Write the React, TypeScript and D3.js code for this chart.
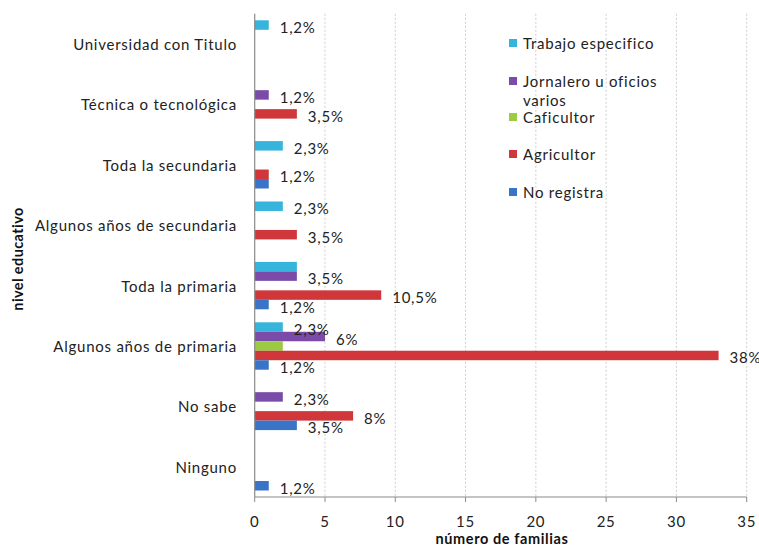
import React from "react";
import * as d3 from "d3";

const categories = [
  "Universidad con Titulo",
  "Técnica o tecnológica",
  "Toda la secundaria",
  "Algunos años de secundaria",
  "Toda la primaria",
  "Algunos años de primaria",
  "No sabe",
  "Ninguno",
];

const seriesNames = ["Trabajo especifico", "Jornalero u oficios varios", "Caficultor", "Agricultor", "No registra"];
const seriesColors = ["#36B4DB", "#7A4BA8", "#9ACB42", "#D0373A", "#3A74C8"];

const trabajo = [1, 0, 2, 2, 3, 2, 0, 0];
const jornalero = [0, 1, 0, 0, 3, 5, 2, 0];
const caficultor = [0, 0, 0, 0, 0, 2, 0, 0];
const agricultor = [0, 3, 1, 3, 9, 33, 7, 0];
const noRegistra = [0, 0, 1, 0, 1, 1, 3, 1];

const trabajoLabels = ["1,2%", "", "2,3%", "2,3%", "", "2,3%", "", ""];
const jornaleroLabels = ["", "1,2%", "", "", "3,5%", "6%", "2,3%", ""];
const caficultorLabels = ["", "", "", "", "", "", "", ""];
const agricultorLabels = ["", "3,5%", "1,2%", "3,5%", "10,5%", "38%", "8%", ""];
const noRegistraLabels = ["", "", "", "", "1,2%", "1,2%", "3,5%", "1,2%"];

const xTicks = [0, 5, 10, 15, 20, 25, 30, 35];

const seriesValues = [trabajo, jornalero, caficultor, agricultor, noRegistra];
const seriesLabels = [trabajoLabels, jornaleroLabels, caficultorLabels, agricultorLabels, noRegistraLabels];

const FONT = "Lato, 'Open Sans', sans-serif";
const LS = 0.75;

export default function App() {
  const W = 759;
  const H = 545;
  const x = d3.scaleLinear().domain([0, 35]).range([254.7, 746.7]);
  const y = d3.scaleBand<string>().domain(categories).range([13.8, 497]);
  const inner = d3
    .scaleBand<number>()
    .domain(d3.range(seriesNames.length))
    .range([6.5, y.bandwidth() - 6.5]);
  const top = 13.8;
  const bottom = 497;
  const axisColor = "#8a8a8a";

  const legendY = [43, 81, 117, 154, 192];

  return (
    <svg
      width={W}
      height={H}
      style={{ position: "absolute", left: 0, top: 0, background: "#fff" }}
      fontFamily={FONT}
    >
      {/* gridlines */}
      {xTicks
        .filter((t) => t > 0)
        .map((t) => (
          <line
            key={"g" + t}
            x1={x(t)}
            x2={x(t)}
            y1={top}
            y2={bottom}
            stroke="#cfcfcf"
            strokeWidth={1}
            strokeDasharray="2,2"
          />
        ))}

      {/* bars */}
      {categories.map((c, ci) =>
        seriesValues.map((vals, si) => {
          const v = vals[ci];
          if (!v) return null;
          const by = (y(c) as number) + (inner(si) as number);
          return (
            <rect
              key={c + si}
              x={x(0)}
              y={by}
              width={x(v) - x(0)}
              height={inner.bandwidth()}
              fill={seriesColors[si]}
            />
          );
        })
      )}

      {/* data labels */}
      {categories.map((c, ci) =>
        seriesLabels.map((labs, si) => {
          const l = labs[ci];
          if (!l) return null;
          const v = seriesValues[si][ci];
          const by = (y(c) as number) + (inner(si) as number) + inner.bandwidth() / 2;
          return (
            <text
              key={"l" + c + si}
              x={x(v) + 11}
              y={by + 2}
              dominantBaseline="central"
              fontSize={15}
              letterSpacing={LS}
              fill="#222"
            >
              {l}
            </text>
          );
        })
      )}

      {/* axes */}
      <line x1={x(0)} x2={x(0)} y1={top} y2={bottom} stroke={axisColor} strokeWidth={1.2} />
      <line x1={x(0)} x2={x(35)} y1={bottom} y2={bottom} stroke={axisColor} strokeWidth={1.2} />
      {xTicks.map((t) => (
        <g key={"t" + t}>
          <line x1={x(t)} x2={x(t)} y1={bottom} y2={bottom + 5} stroke={axisColor} strokeWidth={1} />
          <text x={x(t)} y={521} textAnchor="middle" dominantBaseline="central" fontSize={15} letterSpacing={LS} fill="#222">
            {t}
          </text>
        </g>
      ))}

      {/* category labels */}
      {categories.map((c) => (
        <text
          key={"c" + c}
          x={237}
          y={(y(c) as number) + y.bandwidth() / 2}
          textAnchor="end"
          dominantBaseline="central"
          fontSize={15}
          letterSpacing={LS}
          fill="#222"
        >
          {c}
        </text>
      ))}

      {/* axis titles */}
      <text x={502} y={538} textAnchor="middle" dominantBaseline="central" fontSize={14.5} letterSpacing={0.6} fontWeight="bold" fill="#111">
        número de familias
      </text>
      <text
        transform={`translate(17,259) rotate(-90)`}
        textAnchor="middle"
        dominantBaseline="central"
        fontSize={14.5}
        letterSpacing={0.4}
        fontWeight="bold"
        fill="#111"
      >
        nivel educativo
      </text>

      {/* legend */}
      {seriesNames.map((n, i) => (
        <g key={"lg" + n}>
          <rect x={509} y={legendY[i] - 4} width={8} height={8} fill={seriesColors[i]} />
          {i === 1 ? (
            <text x={523} y={legendY[i]} dominantBaseline="central" fontSize={15} letterSpacing={LS} fill="#222">
              <tspan x={523}>Jornalero u oficios</tspan>
              <tspan x={523} dy={19}>varios</tspan>
            </text>
          ) : (
            <text x={523} y={legendY[i]} dominantBaseline="central" fontSize={15} letterSpacing={LS} fill="#222">
              {n}
            </text>
          )}
        </g>
      ))}
    </svg>
  );
}
